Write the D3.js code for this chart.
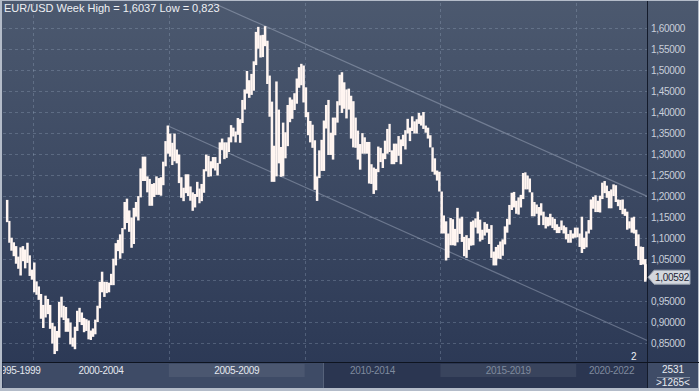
<!DOCTYPE html>
<html>
<head>
<meta charset="utf-8">
<script src="https://cdn.jsdelivr.net/npm/d3@7"></script>
<style>
  body { margin: 0; background: #2d3a56; }
  svg { display: block; font-family: "Liberation Sans", Arial, sans-serif; }
</style>
</head>
<body>
<div id="chart"></div>
<script>
// EUR/USD monthly high / low, Jan 1999 .. Aug 2022
var firstMonth = "1999-01-01";
var highs = [
  1.190,1.140,1.100,1.089,1.080,1.055,1.077,1.080,1.072,1.088,1.058,1.024, // 1999
  1.041,0.996,0.984,0.966,0.940,0.962,0.954,0.940,0.897,0.889,0.878,0.947, // 2000
  0.9595,0.938,0.935,0.908,0.898,0.862,0.888,0.926,0.933,0.922,0.909,0.906, // 2001
  0.903,0.879,0.884,0.905,0.938,0.995,1.019,0.995,0.995,0.993,1.014,1.050, // 2002
  1.087,1.095,1.108,1.123,1.185,1.193,1.165,1.148,1.171,1.185,1.199,1.265, // 2003
  1.293,1.293,1.246,1.240,1.228,1.230,1.246,1.242,1.244,1.281,1.330,1.367, // 2004
  1.348,1.326,1.348,1.310,1.298,1.244,1.219,1.251,1.251,1.222,1.208,1.204, // 2005
  1.233,1.217,1.228,1.263,1.298,1.295,1.282,1.292,1.292,1.278,1.327,1.336, // 2006
  1.327,1.327,1.339,1.368,1.362,1.353,1.385,1.382,1.428,1.453,1.497,1.475, // 2007
  1.490,1.520,1.590,1.602,1.582,1.583,1.6037,1.569,1.486,1.424,1.319,1.472, // 2008
  1.405,1.316,1.374,1.351,1.416,1.434,1.429,1.444,1.479,1.506,1.514,1.510, // 2009
  1.458,1.399,1.378,1.369,1.332,1.246,1.308,1.333,1.379,1.416,1.428,1.350, // 2010
  1.386,1.386,1.425,1.488,1.494,1.470,1.453,1.455,1.438,1.425,1.386,1.355, // 2011
  1.323,1.349,1.339,1.328,1.328,1.275,1.267,1.264,1.317,1.314,1.301,1.331, // 2012
  1.359,1.371,1.308,1.324,1.324,1.342,1.334,1.345,1.356,1.383,1.362,1.389, // 2013
  1.377,1.382,1.397,1.391,1.3993,1.367,1.362,1.344,1.315,1.289,1.260,1.257, // 2014
  1.210,1.153,1.139,1.110,1.147,1.144,1.121,1.171,1.146,1.150,1.102,1.106, // 2015
  1.099,1.138,1.141,1.146,1.162,1.143,1.119,1.137,1.133,1.121,1.130,1.067, // 2016
  1.078,1.083,1.091,1.096,1.127,1.145,1.178,1.207,1.209,1.188,1.196,1.202, // 2017
  1.254,1.2556,1.248,1.241,1.208,1.185,1.179,1.173,1.182,1.162,1.150,1.149, // 2018
  1.157,1.149,1.145,1.132,1.126,1.141,1.129,1.125,1.109,1.118,1.110,1.124, // 2019
  1.124,1.110,1.150,1.100,1.115,1.142,1.191,1.197,1.201,1.188,1.200,1.231, // 2020
  1.2349,1.224,1.211,1.215,1.227,1.225,1.191,1.190,1.191,1.169,1.162,1.139, // 2021
  1.148,1.150,1.119,1.108,1.079,1.078,1.049,1.037                            // 2022
];
var lows = [
  1.137,1.088,1.069,1.056,1.038,1.026,1.010,1.044,1.027,1.040,1.009,1.000,
  0.970,0.964,0.952,0.907,0.885,0.910,0.918,0.883,0.848,0.823,0.830,0.862,
  0.910,0.904,0.876,0.876,0.846,0.8405,0.8345,0.878,0.899,0.892,0.875,0.878,
  0.858,0.8565,0.864,0.870,0.899,0.932,0.970,0.959,0.968,0.970,0.987,0.987,
  1.034,1.068,1.050,1.063,1.120,1.135,1.114,1.076,1.085,1.150,1.141,1.196,
  1.235,1.235,1.208,1.176,1.176,1.197,1.202,1.202,1.200,1.225,1.270,1.300,
  1.293,1.273,1.282,1.277,1.230,1.195,1.187,1.206,1.199,1.188,1.164,1.172,
  1.197,1.182,1.187,1.207,1.258,1.245,1.246,1.265,1.260,1.248,1.276,1.309,
  1.287,1.290,1.304,1.327,1.341,1.327,1.345,1.326,1.373,1.405,1.443,1.433,
  1.440,1.450,1.511,1.550,1.529,1.530,1.556,1.466,1.388,1.233,1.233,1.246,
  1.277,1.245,1.246,1.289,1.318,1.375,1.383,1.404,1.419,1.457,1.463,1.422,
  1.387,1.344,1.327,1.314,1.214,1.1876,1.242,1.259,1.259,1.360,1.297,1.297,
  1.286,1.344,1.374,1.415,1.397,1.407,1.384,1.405,1.336,1.315,1.314,1.286,
  1.262,1.300,1.300,1.300,1.229,1.228,1.2042,1.213,1.256,1.280,1.266,1.287,
  1.300,1.304,1.275,1.275,1.280,1.295,1.275,1.318,1.310,1.348,1.330,1.354,
  1.348,1.348,1.371,1.367,1.359,1.350,1.336,1.315,1.257,1.250,1.236,1.210,
  1.110,1.110,1.0458,1.052,1.082,1.082,1.081,1.089,1.109,1.090,1.056,1.052,
  1.071,1.081,1.082,1.124,1.110,1.091,1.095,1.105,1.112,1.085,1.052,1.034,
  1.034,1.050,1.049,1.057,1.084,1.112,1.131,1.166,1.172,1.157,1.155,1.172,
  1.192,1.215,1.215,1.208,1.151,1.151,1.157,1.130,1.153,1.130,1.122,1.127,
  1.129,1.123,1.118,1.111,1.111,1.118,1.110,1.096,1.088,1.088,1.098,1.100,
  1.101,1.078,1.0636,1.073,1.077,1.110,1.119,1.169,1.161,1.161,1.160,1.192,
  1.206,1.195,1.170,1.170,1.199,1.185,1.175,1.166,1.156,1.152,1.119,1.122,
  1.112,1.110,1.080,1.047,1.035,1.036,0.9952,1.000
];
var lastValue = 1.00592;
var yTicks = [0.85,0.90,0.95,1.00,1.05,1.10,1.15,1.20,1.25,1.30,1.35,1.40,1.45,1.50,1.55,1.60];
var periodLabels = ["1995-1999","2000-2004","2005-2009","2010-2014","2015-2019","2020-2022"];
var periodStarts = ["1995-01-01","2000-01-01","2005-01-01","2010-01-01","2015-01-01","2020-01-01"];
// channel lines (two anchor points each)
var upperChannel = [["2006-05-20", 1.666], ["2022-09-01", 1.197]];
var lowerChannel = [["2004-12-15", 1.3666], ["2022-09-01", 0.854]];

var W = 699, H = 391;
var plot = {left: 3, right: 647, top: 3, bottom: 362};
var parse = d3.timeParse("%Y-%m-%d");
var comma = function(f) { return function(v) { return d3.format(f)(v).replace(".", ","); }; };

var bars = highs.map(function(h, i) {
  var d = d3.timeMonth.offset(parse(firstMonth), i);
  return {date: d, next: d3.timeMonth.offset(d, 1), high: h, low: lows[i]};
});

var x = d3.scaleTime()
  .domain([parse("1998-12-01"), parse("2022-09-01")])
  .range([3.6, 648.6]);
var y = d3.scaleLinear().domain([0.85, 1.60]).range([342.7, 27.7]);

var svg = d3.select("#chart").append("svg").attr("width", W).attr("height", H);
var defs = svg.append("defs");
var grad = defs.append("linearGradient").attr("id", "bg").attr("x1", 0).attr("y1", 0).attr("x2", 0).attr("y2", 1);
grad.append("stop").attr("offset", "0%").attr("stop-color", "#4c596f");
grad.append("stop").attr("offset", "100%").attr("stop-color", "#2a3754");
defs.append("clipPath").attr("id", "plotclip").append("rect")
  .attr("x", plot.left).attr("y", plot.top)
  .attr("width", plot.right - plot.left).attr("height", plot.bottom - plot.top);
defs.append("clipPath").attr("id", "stripclip").append("rect")
  .attr("x", plot.left).attr("y", 363).attr("width", plot.right - plot.left).attr("height", 25);

svg.append("rect").attr("width", W).attr("height", H).attr("fill", "#b4bcc9");
svg.append("rect").attr("x", 2).attr("y", 1).attr("width", W - 3).attr("height", 387).attr("fill", "url(#bg)");

// grid
var g = svg.append("g").attr("clip-path", "url(#plotclip)");
g.selectAll("line.hgrid").data(yTicks).enter().append("line")
  .attr("x1", plot.left).attr("x2", plot.right)
  .attr("y1", function(d) { return Math.round(y(d)) + 0.5; })
  .attr("y2", function(d) { return Math.round(y(d)) + 0.5; })
  .attr("stroke", "rgba(170,185,210,0.28)").attr("stroke-dasharray", "3,3");
g.selectAll("line.vgrid").data(periodStarts.slice(1)).enter().append("line")
  .attr("x1", function(d) { return Math.round(x(parse(d))) + 0.5; })
  .attr("x2", function(d) { return Math.round(x(parse(d))) + 0.5; })
  .attr("y1", plot.top).attr("y2", plot.bottom)
  .attr("stroke", "rgba(170,185,210,0.28)").attr("stroke-dasharray", "3,3");

// channel
var line = d3.line().x(function(d) { return x(parse(d[0])); }).y(function(d) { return y(d[1]); });
[upperChannel, lowerChannel].forEach(function(c) {
  g.append("path").attr("d", line(c)).attr("fill", "none")
    .attr("stroke", "rgba(205,215,232,0.34)").attr("stroke-width", 1.2);
});

// high-low bars
g.selectAll("rect.bar").data(bars).enter().append("rect")
  .attr("x", function(d) { return x(d.date); })
  .attr("width", function(d) { return x(d.next) - x(d.date) + 0.2; })
  .attr("y", function(d) { return y(d.high); })
  .attr("height", function(d) { return y(d.low) - y(d.high); })
  .attr("fill", "#fff5f1");

// title
svg.append("text").attr("x", 4).attr("y", 12).attr("font-size", 11).attr("fill", "#eef0f4")
  .text("EUR/USD Week High = " + comma(".4f")(d3.max(highs)) + " Low = " + comma(".3f")(d3.min(lows)));
svg.append("text").attr("x", 631).attr("y", 360).attr("font-size", 10).attr("fill", "#f0f2f6").text("2");

// right axis (labels hidden where the last-value marker sits, as in the original)
var ly = y(lastValue);
svg.append("line").attr("x1", 647.5).attr("x2", 647.5).attr("y1", 1).attr("y2", 388).attr("stroke", "#141b2b");
svg.selectAll("text.ytick").data(yTicks.filter(function(d) { return Math.abs(y(d) - ly) > 10; }))
  .enter().append("text")
  .attr("x", 651).attr("y", function(d) { return y(d) + 4; })
  .attr("font-size", 10).attr("fill", "#c9cfda").attr("letter-spacing", "-0.3")
  .text(comma(".5f"));

// last value marker
svg.append("path")
  .attr("d", "M648," + ly + " L654," + (ly - 7) + " L690," + (ly - 7) + " L690," + (ly + 7) + " L654," + (ly + 7) + " Z")
  .attr("fill", "#d3d7de").attr("stroke", "#9aa2b0");
svg.append("text").attr("x", 655).attr("y", ly + 4).attr("font-size", 10).attr("fill", "#1d2434")
  .attr("letter-spacing", "-0.3").text(comma(".5f")(lastValue));

// bottom strip
svg.append("line").attr("x1", 2).attr("x2", W).attr("y1", 362.5).attr("y2", 362.5).attr("stroke", "#0e1420");
var strip = svg.append("g").attr("clip-path", "url(#stripclip)");
strip.append("rect").attr("x", plot.left).attr("y", 363).attr("width", 320).attr("height", 25).attr("fill", "#3e4b66");
strip.append("rect").attr("x", 323).attr("y", 363).attr("width", plot.right - 323).attr("height", 25).attr("fill", "#2b3651");
strip.append("line").attr("x1", 323.5).attr("x2", 323.5).attr("y1", 363).attr("y2", 388).attr("stroke", "#56627a");

var periods = periodStarts.map(function(s, i) {
  var a = Math.max(x(parse(s)), plot.left);
  var b = i < periodStarts.length - 1 ? x(parse(periodStarts[i + 1])) : plot.right;
  return {label: periodLabels[i], a: a, b: Math.min(b, plot.right), i: i};
});
strip.selectAll("rect.blk").data(periods.filter(function(p) { return p.i % 2 === 0 && p.i > 0; }))
  .enter().append("rect")
  .attr("x", function(p) { return p.a; }).attr("y", 364)
  .attr("width", function(p) { return p.b - p.a; }).attr("height", 13)
  .attr("fill", "rgba(255,255,255,0.07)");
strip.selectAll("text.per").data(periods).enter().append("text")
  .attr("x", function(p) { return (p.a + p.b) / 2; }).attr("y", 374)
  .attr("text-anchor", "middle").attr("font-size", 10).attr("letter-spacing", "-0.3")
  .attr("fill", function(p) { return (p.a + p.b) / 2 < 323 ? "#e4e8ef" : "#7f8a9e"; })
  .text(function(p) { return p.label; });

// bottom right counter box
svg.append("rect").attr("x", 648).attr("y", 363).attr("width", W - 649).attr("height", 25).attr("fill", "#3f4c67");
svg.append("text").attr("x", 673).attr("y", 373).attr("text-anchor", "middle").attr("font-size", 10)
  .attr("fill", "#e8ebf0").text("2531");
svg.append("line").attr("x1", 657).attr("x2", 690).attr("y1", 377.5).attr("y2", 377.5).attr("stroke", "#7c879b");
svg.append("text").attr("x", 673).attr("y", 386).attr("text-anchor", "middle").attr("font-size", 10)
  .attr("fill", "#e8ebf0").text(">1265<");
</script>
</body>
</html>
